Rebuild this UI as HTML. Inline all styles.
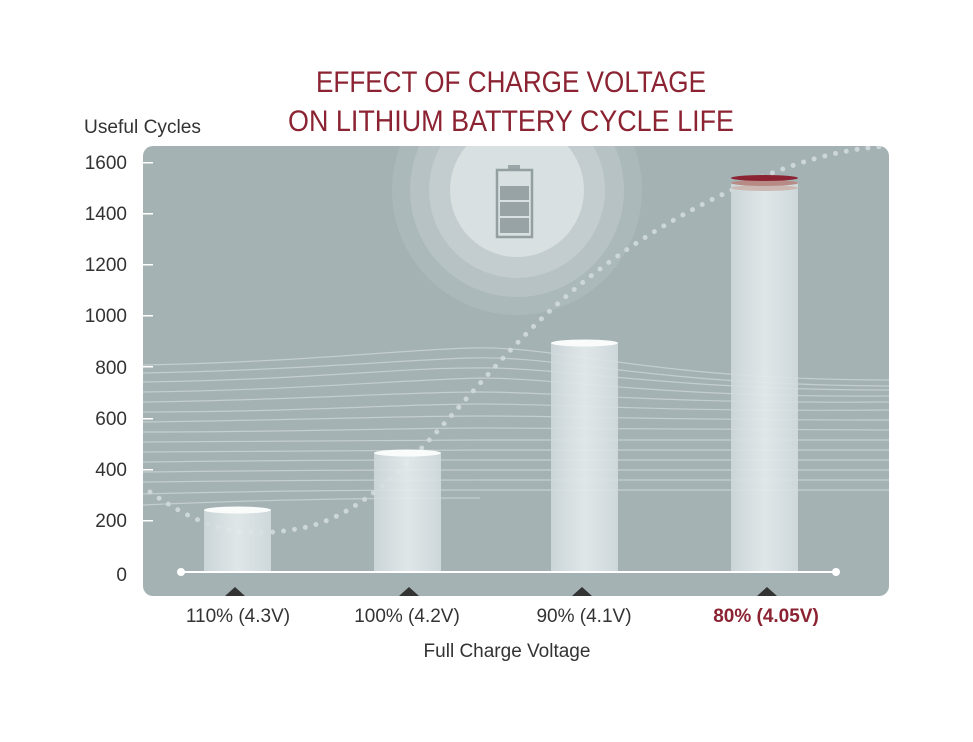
<!DOCTYPE html>
<html><head><style>
body{margin:0;background:#fff;width:973px;height:737px;overflow:hidden;font-family:"Liberation Sans",sans-serif;}
</style></head><body>
<svg width="973" height="737" viewBox="0 0 973 737" xmlns="http://www.w3.org/2000/svg">
<defs>
<clipPath id="pc"><rect x="143" y="146" width="746" height="450" rx="10"/></clipPath>
<linearGradient id="bar" x1="0" x2="1"><stop offset="0" stop-color="#cfd9dc"/><stop offset="0.5" stop-color="#e6ecee"/><stop offset="1" stop-color="#d2dcdf"/></linearGradient>
</defs>
<text x="511" y="92" text-anchor="middle" font-size="30" fill="#8b2332" font-family="Liberation Sans Narrow, Liberation Sans, sans-serif" textLength="390" lengthAdjust="spacingAndGlyphs">EFFECT OF CHARGE VOLTAGE</text>
<text x="511" y="131" text-anchor="middle" font-size="30" fill="#8b2332" textLength="446" lengthAdjust="spacingAndGlyphs">ON LITHIUM BATTERY CYCLE LIFE</text>
<text x="84" y="133" font-size="19" fill="#333" textLength="117" lengthAdjust="spacingAndGlyphs">Useful Cycles</text>
<rect x="143" y="146" width="746" height="450" rx="10" fill="#a4b2b4"/>
<g clip-path="url(#pc)">
<circle cx="517" cy="190" r="125" fill="#acb9bb"/>
<circle cx="517" cy="190" r="107" fill="#b6c2c4"/>
<circle cx="517" cy="190" r="88" fill="#c3cdcf"/>
<circle cx="517" cy="190" r="67" fill="#d8e0e1"/>
<rect x="508" y="165" width="12" height="5" fill="#9aa6a8"/>
<rect x="497" y="170" width="35" height="67" fill="none" stroke="#949fa1" stroke-width="2.5"/>
<rect x="500" y="186" width="29" height="14" fill="#97a3a5"/>
<rect x="500" y="202" width="29" height="14" fill="#97a3a5"/>
<rect x="500" y="218" width="29" height="15" fill="#97a3a5"/>
<g fill="none" stroke="#c8d1d3" stroke-width="1.2" opacity="0.9">
<path d="M143 365 C300 362 400 350 470 348 C560 345 650 380 889 380"/>
<path d="M143 373 C300 370 400 360 470 358 C560 355 650 385 889 386"/>
<path d="M143 382 C300 380 400 368 470 368 C560 366 660 390 889 390"/>
<path d="M143 392 C300 390 400 380 480 378 C560 378 660 398 889 396"/>
<path d="M143 402 C300 400 400 392 480 392 C560 392 660 404 889 402"/>
<path d="M143 412 C300 412 400 404 480 404 C570 404 660 412 889 410"/>
<path d="M143 422 C300 420 400 416 480 416 C570 416 660 420 889 420"/>
<path d="M143 432 C300 432 400 428 480 428 C570 428 660 430 889 430"/>
<path d="M143 442 C300 442 400 440 480 440 C570 440 660 440 889 440"/>
<path d="M143 452 C300 452 400 450 480 450 C570 450 660 450 889 450"/>
<path d="M143 462 C300 460 400 460 480 460 C570 460 660 460 889 460"/>
<path d="M143 472 C300 470 400 470 480 470 C570 470 660 470 889 470"/>
<path d="M143 482 C300 480 400 480 480 480 C570 480 660 480 889 480"/>
<path d="M143 494 C300 490 400 490 480 490 C570 490 660 490 889 490"/>
<path d="M143 505 C250 500 350 498 480 498"/>
</g>
<path d="M150 492 C190 520 230 540 290 530 C380 520 440 420 530 330 C610 250 700 200 780 170 C830 152 860 148 889 146" fill="none" stroke="#cdd6d8" stroke-width="5" stroke-linecap="round" stroke-dasharray="0 11"/>
<g fill="#fff">
<rect x="143" y="162" width="10" height="1.5"/><rect x="143" y="213" width="10" height="1.5"/><rect x="143" y="264" width="10" height="1.5"/><rect x="143" y="315" width="10" height="1.5"/><rect x="143" y="366" width="10" height="1.5"/><rect x="143" y="418" width="10" height="1.5"/><rect x="143" y="469" width="10" height="1.5"/><rect x="143" y="520" width="10" height="1.5"/>
</g>
<rect x="204" y="510" width="67" height="62" fill="url(#bar)" opacity="0.9"/>
<ellipse cx="237.5" cy="510" rx="33.5" ry="3.5" fill="#fafcfc"/>
<rect x="374" y="453" width="67" height="119" fill="url(#bar)" opacity="0.9"/>
<ellipse cx="407.5" cy="453" rx="33.5" ry="3.5" fill="#fafcfc"/>
<rect x="551" y="343" width="67" height="229" fill="url(#bar)" opacity="0.9"/>
<ellipse cx="584.5" cy="343" rx="33.5" ry="3.5" fill="#fafcfc"/>
<rect x="731" y="183" width="67" height="389" fill="url(#bar)" opacity="0.9"/>
<ellipse cx="764.5" cy="188" rx="33.5" ry="3" fill="#cdb9b4"/>
<ellipse cx="764.5" cy="183" rx="33.5" ry="3" fill="#b88a85"/>
<ellipse cx="764.5" cy="178" rx="33.5" ry="3" fill="#8b2332"/>
<line x1="181" y1="572" x2="836" y2="572" stroke="#fff" stroke-width="2"/>
<circle cx="181" cy="572" r="4" fill="#fff"/><circle cx="836" cy="572" r="4" fill="#fff"/>
<g fill="#333"><path d="M225 596 L235 587 L245 596Z"/><path d="M399 596 L409 587 L419 596Z"/><path d="M572 596 L582 587 L592 596Z"/><path d="M757 596 L767 587 L777 596Z"/></g>
</g>
<g font-size="19" fill="#333" text-anchor="end">
<text x="127" y="169">1600</text><text x="127" y="220">1400</text><text x="127" y="271">1200</text><text x="127" y="322">1000</text><text x="127" y="374">800</text><text x="127" y="425">600</text><text x="127" y="476">400</text><text x="127" y="527">200</text><text x="127" y="581">0</text>
</g>
<g font-size="19" fill="#333" text-anchor="middle">
<text x="238" y="622">110% (4.3V)</text><text x="407" y="622">100% (4.2V)</text><text x="584" y="622">90% (4.1V)</text>
<text x="766" y="622" fill="#8b2332" font-weight="bold">80% (4.05V)</text>
<text x="507" y="657">Full Charge Voltage</text>
</g>
</svg>
</body></html>
